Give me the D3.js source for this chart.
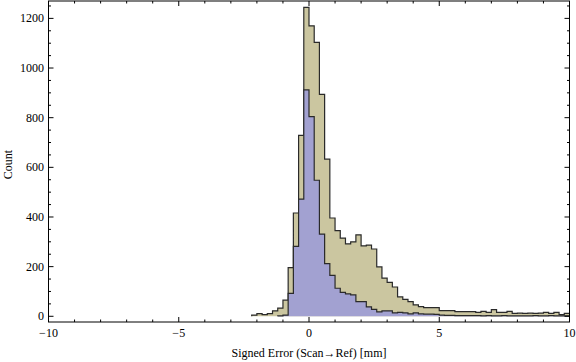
<!DOCTYPE html>
<html>
<head>
<meta charset="utf-8">
<script src="https://cdn.jsdelivr.net/npm/d3@7"></script>
<style>
  html, body { margin: 0; padding: 0; background: #fff; }
  svg { display: block; }
  text { font-family: "Liberation Serif", "DejaVu Serif", serif; fill: #000; }
</style>
</head>
<body>
<svg id="chart" width="576" height="362"></svg>
<script>
// ---- data ----
const binWidth = 0.2;
const outerStart = -2.2;
const outerCounts = [
  5, 11, 7, 11, 22, 33, 65, 196, 416, 729, 1244,
  1170, 1103, 894, 633, 396, 345, 315, 292, 300, 328,
  284, 287, 271, 199, 154, 137, 118, 78, 68, 59,
  46, 39, 35, 35, 35, 23, 23, 23, 19, 19,
  19, 19, 16, 20, 16, 27, 16, 16, 20, 12,
  13, 12, 13, 12, 13, 16, 12, 16, 7, 12
];
const innerStart = -1.2;
const innerCounts = [
  2, 5, 92, 282, 472, 912,
  804, 548, 331, 212, 165, 113, 96, 90, 86, 59,
  59, 38, 28, 18, 22, 22, 14, 16, 14, 10,
  14, 10, 9, 9, 8, 5, 4, 4, 3, 3,
  3, 3, 3, 2, 3, 2, 2, 3, 2, 2,
  2, 2, 2, 3, 2, 2, 3, 2, 2, 2,
  2
];
const xMajor = [-10, -5, 0, 5, 10];
const yMajor = [0, 200, 400, 600, 800, 1000, 1200];
const xLabel = "Signed Error (Scan\u2192Ref) [mm]";
const yLabel = "Count";

// ---- layout ----
const L = 48.5, R = 569.5, T = 1, B = 322;
const svg = d3.select("#chart");
const x = d3.scaleLinear().domain([-10, 10]).range([L, R]);
const y = d3.scaleLinear().domain([-23, 1270]).range([B, T]);

svg.append("defs").append("clipPath").attr("id", "clip")
  .append("rect").attr("x", L).attr("y", T).attr("width", R - L).attr("height", B - T);

function toPoints(start, counts) {
  const pts = counts.map((c, i) => [start + i * binWidth, c]);
  const last = counts[counts.length - 1];
  pts.push([start + counts.length * binWidth, last]);
  return pts;
}

const area = d3.area().curve(d3.curveStepAfter)
  .x(d => x(d[0])).y0(y(0)).y1(d => y(d[1]));
const line = d3.line().curve(d3.curveStepAfter)
  .x(d => x(d[0])).y(d => y(d[1]));

const g = svg.append("g").attr("clip-path", "url(#clip)");

function drawHist(start, counts, fill) {
  const pts = toPoints(start, counts);
  g.append("path").attr("d", area(pts)).attr("fill", fill).attr("stroke", "none");
  const outline = [[start, 0]].concat(pts);
  g.append("path").attr("d", line(outline)).attr("fill", "none")
    .attr("stroke", "#2a2a2a").attr("stroke-width", 1.2).attr("stroke-linejoin", "miter");
}
drawHist(outerStart, outerCounts, "#cbc6a0");
drawHist(innerStart, innerCounts, "#a2a1d1");

// ---- frame and ticks ----
const fr = svg.append("g");
fr.append("rect").attr("x", L).attr("y", T).attr("width", R - L).attr("height", B - T)
  .attr("fill", "none").attr("stroke", "#000").attr("stroke-width", 1);

const xMinor = d3.range(-10, 10.001, 1).filter(v => !xMajor.includes(v));
const yMinor = d3.range(0, 1250.001, 50).filter(v => !yMajor.includes(v));

function xt(v, len) {
  fr.append("line").attr("x1", x(v)).attr("x2", x(v)).attr("y1", B).attr("y2", B - len).attr("stroke", "#000");
  fr.append("line").attr("x1", x(v)).attr("x2", x(v)).attr("y1", T).attr("y2", T + len).attr("stroke", "#000");
}
function yt(v, len) {
  fr.append("line").attr("y1", y(v)).attr("y2", y(v)).attr("x1", L).attr("x2", L + len).attr("stroke", "#000");
  fr.append("line").attr("y1", y(v)).attr("y2", y(v)).attr("x1", R).attr("x2", R - len).attr("stroke", "#000");
}
xMajor.forEach(v => xt(v, 5));
xMinor.forEach(v => xt(v, 2.5));
yMajor.forEach(v => yt(v, 5));
yMinor.forEach(v => yt(v, 2.5));

const fmt = d3.format("d");
xMajor.forEach(v => {
  svg.append("text").attr("x", x(v)).attr("y", 337).attr("text-anchor", "middle")
    .attr("font-size", 12).text(fmt(v));
});
yMajor.forEach(v => {
  svg.append("text").attr("x", 44).attr("y", y(v) + 4).attr("text-anchor", "end")
    .attr("font-size", 12).text(fmt(v));
});

svg.append("text").attr("x", (L + R) / 2).attr("y", 357).attr("text-anchor", "middle")
  .attr("font-size", 12).text(xLabel);
svg.append("text").attr("transform", "translate(12," + ((T + B) / 2 + 3) + ") rotate(-90)")
  .attr("text-anchor", "middle").attr("font-size", 12).text(yLabel);
</script>
</body>
</html>
